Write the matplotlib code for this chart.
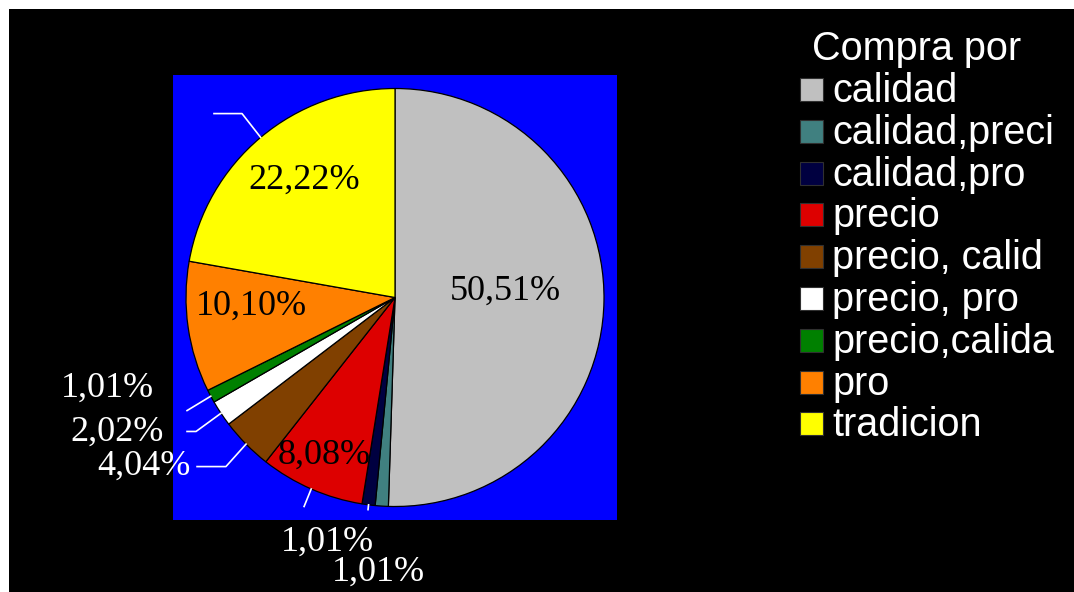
import numpy as np
import matplotlib
matplotlib.use("Agg")
import matplotlib.pyplot as plt
from matplotlib.patches import Rectangle

# data (99 answers)
categorias = ["calidad", "calidad,preci", "calidad,pro", "precio", "precio, calid",
              "precio, pro", "precio,calida", "pro", "tradicion"]
respuestas = [50, 1, 1, 8, 4, 2, 1, 10, 22]
colores = ["#C0C0C0", "#408080", "#000040", "#DD0000", "#804000",
           "#FFFFFF", "#008000", "#FF8000", "#FFFF00"]

# where each percentage label sits, in pie-radius units
pos_etiquetas = [(0.53, 0.03), (-0.077, -1.316), (-0.325, -1.172), (-0.34, -0.756),
                 (-1.20, -0.809), (-1.33, -0.646), (-1.378, -0.435),
                 (-0.685, -0.04), (-0.435, 0.56)]
etiqueta_fuera = [False, True, True, False, True, True, True, False, False]

# leader lines: points after the wedge edge, in radius units
lineas = {8: [(-0.732, 0.880), (-0.866, 0.880)],
          6: [(-0.995, -0.541)],
          5: [(-0.952, -0.641), (-0.995, -0.641)],
          4: [(-0.809, -0.809), (-0.947, -0.809)],
          3: [(-0.435, -1.00)],
          2: [(-0.129, -1.015)]}

W, H = 1074, 592
fig = plt.figure(figsize=(W / 100, H / 100), dpi=100, facecolor="white")
fig.add_artist(Rectangle((9 / W, 0), 1 - 9 / W, 1 - 9 / H, transform=fig.transFigure,
                         facecolor="black", edgecolor="none", zorder=-10))

ax = fig.add_axes([173 / W, 72 / H, 444 / W, 445 / H])
wedges, _ = ax.pie(respuestas, colors=colores, startangle=90, counterclock=False,
                   radius=1, wedgeprops=dict(edgecolor="black", linewidth=0.9))
ax.set_frame_on(True)
for s in ax.spines.values():
    s.set_visible(False)
ax.set_facecolor("#0000FF")
ax.set_aspect("auto")
ax.set_xlim(-222 / 209, 222 / 209)
ax.set_ylim(-222.5 / 209, 222.5 / 209)
ax.set_xticks([])
ax.set_yticks([])

total = sum(respuestas)
for i, w in enumerate(wedges):
    pct = f"{100 * respuestas[i] / total:.2f}".replace(".", ",") + "%"
    x, y = pos_etiquetas[i]
    ax.text(x, y, pct, ha="center", va="center", fontsize=26,
            family="Liberation Serif", color="white" if etiqueta_fuera[i] else "black",
            clip_on=False, zorder=5)
    if i in lineas:
        ang = np.radians((w.theta1 + w.theta2) / 2)
        xs = [np.cos(ang)] + [p[0] for p in lineas[i]]
        ys = [np.sin(ang)] + [p[1] for p in lineas[i]]
        ax.plot(xs, ys, color="white", lw=1.2, zorder=4)

# legend
fig.text(812 / W, 1 - 60 / H, "Compra por", color="white", fontsize=28.5,
         family="Liberation Sans", va="baseline", ha="left")
for i, cat in enumerate(categorias):
    base = 102 + 41.8 * i
    fig.add_artist(Rectangle((800 / W, 1 - (base - 1) / H), 23 / W, 23 / H,
                             transform=fig.transFigure, facecolor=colores[i],
                             edgecolor="#303030", linewidth=0.8))
    fig.text(832 / W, 1 - base / H, cat, color="white", fontsize=28.5,
             family="Liberation Sans", va="baseline", ha="left")

fig.savefig("out.png", dpi=100, facecolor=fig.get_facecolor())
